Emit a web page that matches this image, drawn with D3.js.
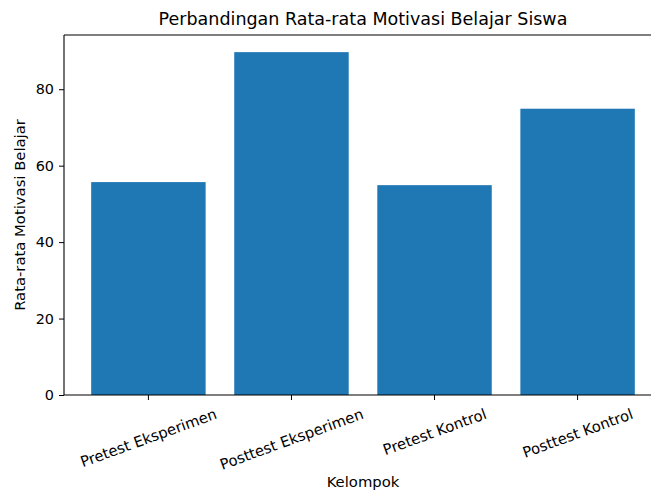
<!DOCTYPE html>
<html>
<head>
<meta charset="utf-8">
<script src="https://cdn.jsdelivr.net/npm/d3@7"></script>
<style>
  body { margin: 0; background: #fff; }
  text { font-family: "DejaVu Sans", sans-serif; fill: #000; }
</style>
</head>
<body>
<svg id="chart"></svg>
<script>
const categories = ["Pretest Eksperimen", "Posttest Eksperimen", "Pretest Kontrol", "Posttest Kontrol"];
const values = [55.7, 89.7, 54.9, 74.9];
const yTicks = [0, 20, 40, 60, 80];
const titleText = "Perbandingan Rata-rata Motivasi Belajar Siswa";
const xLabel = "Kelompok";
const yLabel = "Rata-rata Motivasi Belajar";

const width = 651, height = 492;
const margin = {left: 64, right: -11, top: 35, bottom: 97};
const svg = d3.select("#chart").attr("width", width).attr("height", height);

const x = d3.scaleBand()
  .domain(categories)
  .range([margin.left, width - margin.right])
  .paddingInner(0.2)
  .paddingOuter(0.19);

const y = d3.scaleLinear()
  .domain([0, d3.max(values) * 1.05])
  .range([height - margin.bottom, margin.top]);

// bars
svg.selectAll(".bar")
  .data(values).enter()
  .append("rect")
  .attr("class", "bar")
  .attr("x", (d, i) => x(categories[i]))
  .attr("width", x.bandwidth())
  .attr("y", d => y(d))
  .attr("height", d => y(0) - y(d))
  .attr("fill", "#1f77b4");

// y axis
const yAxis = d3.axisLeft(y).tickValues(yTicks).tickSize(5).tickPadding(5);
const gy = svg.append("g")
  .attr("transform", `translate(${margin.left},0)`)
  .call(yAxis);
gy.select(".domain").remove();
gy.selectAll("text").style("font-size", "14.4px").style("font-family", "DejaVu Sans");

// x axis ticks
const xAxis = d3.axisBottom(x).tickSize(5).tickFormat("");
const gx = svg.append("g")
  .attr("transform", `translate(0,${y(0)})`)
  .call(xAxis);
gx.select(".domain").remove();

// rotated tick labels
const rot = 20 * Math.PI / 180;
const tickTop = y(0) + 10;
svg.selectAll(".xlab")
  .data(categories).enter()
  .append("text")
  .attr("class", "xlab")
  .style("font-size", "14.8px")
  .attr("text-anchor", "middle")
  .attr("dominant-baseline", "central")
  .text(d => d)
  .each(function(d) {
    const w = this.getComputedTextLength();
    const h = 17;
    const cy = tickTop + (w * Math.sin(rot) + h * Math.cos(rot)) / 2;
    d3.select(this).attr("transform", `translate(${x(d) + x.bandwidth() / 2},${cy}) rotate(-20)`);
  });

// spines
const xr = width - margin.right;
svg.append("line").attr("x1", margin.left).attr("x2", margin.left)
  .attr("y1", margin.top).attr("y2", y(0)).attr("stroke", "#000").attr("stroke-width", 1.1);
svg.append("line").attr("x1", margin.left).attr("x2", xr)
  .attr("y1", y(0)).attr("y2", y(0)).attr("stroke", "#000").attr("stroke-width", 1.1);
svg.append("line").attr("x1", margin.left).attr("x2", xr)
  .attr("y1", margin.top).attr("y2", margin.top).attr("stroke", "#000").attr("stroke-width", 1.1);
svg.append("line").attr("x1", xr).attr("x2", xr)
  .attr("y1", margin.top).attr("y2", y(0)).attr("stroke", "#000").attr("stroke-width", 1.1);

const cx = (margin.left + xr) / 2;

// title
svg.append("text")
  .attr("x", cx).attr("y", 25)
  .attr("text-anchor", "middle")
  .style("font-size", "17.5px")
  .text(titleText);

// x label
svg.append("text")
  .attr("x", cx).attr("y", 487)
  .attr("text-anchor", "middle")
  .style("font-size", "14.8px")
  .text(xLabel);

// y label
svg.append("text")
  .attr("transform", `translate(25,${(margin.top + y(0)) / 2}) rotate(-90)`)
  .attr("text-anchor", "middle")
  .style("font-size", "14.8px")
  .text(yLabel);
</script>
</body>
</html>
